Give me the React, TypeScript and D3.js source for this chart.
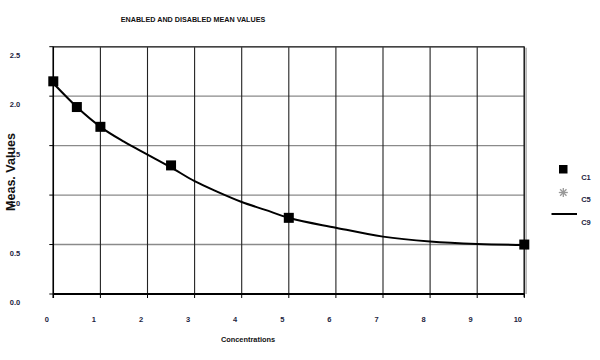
import React from "react";
import * as d3 from "d3";

const title = "ENABLED AND DISABLED MEAN VALUES";
const xTicks = [0, 1, 2, 3, 4, 5, 6, 7, 8, 9, 10];
const yTicks = [0, 0.5, 1.0, 1.5, 2.0, 2.5];
const c1X = [0, 0.5, 1, 2.5, 5, 10];
const c1Y = [2.15, 1.89, 1.69, 1.3, 0.77, 0.5];
const c5X: number[] = [];
const c5Y: number[] = [];
const c9X = [0, 0.5, 1, 1.5, 2, 2.5, 3, 3.5, 4, 4.5, 5, 6, 7, 8, 9, 10];
const c9Y = [2.13, 1.89, 1.69, 1.54, 1.41, 1.28, 1.14, 1.03, 0.93, 0.85, 0.77, 0.67, 0.58, 0.53, 0.505, 0.495];
const legendLabels = ["C1", "C5", "C9"];

export default function App() {
  const W = 600, H = 360;
  const x = d3.scaleLinear().domain([0, 10]).range([53.3, 524.3]);
  const y = d3.scaleLinear().domain([0, 2.5]).range([294, 46.7]);
  const line = d3
    .line<[number, number]>()
    .x((d) => x(d[0]))
    .y((d) => y(d[1]))
    .curve(d3.curveMonotoneX);
  const c9 = c9X.map((v, i) => [v, c9Y[i]] as [number, number]);
  const font = "'Liberation Sans', Arial, sans-serif";
  const labelColor = "#1c2340";
  const [x0, x1] = x.range();
  const [y0, y1] = y.range();
  const star = (cx: number, cy: number, r: number) =>
    [0, 45, 90, 135].map((a) => {
      const rad = (a * Math.PI) / 180;
      return (
        <line
          key={a}
          x1={cx - r * Math.cos(rad)}
          y1={cy - r * Math.sin(rad)}
          x2={cx + r * Math.cos(rad)}
          y2={cy + r * Math.sin(rad)}
          stroke="#999"
          strokeWidth={1.3}
        />
      );
    });
  return (
    <svg
      width={W}
      height={H}
      style={{ position: "absolute", left: 0, top: 0, background: "#fff" }}
      fontFamily={font}
    >
      <rect x={0} y={0} width={W} height={H} fill="#fff" />
      <text x={193} y={22} textAnchor="middle" fontSize={7.2} fontWeight="bold" fill="#111">
        {title}
      </text>
      {yTicks.map((t) => (
        <line key={"h" + t} x1={x0} x2={x1} y1={y(t)} y2={y(t)} stroke="#8a8a8a" strokeWidth={1.4} />
      ))}
      {xTicks.map((t) => (
        <line key={"v" + t} x1={x(t)} x2={x(t)} y1={y1} y2={y0} stroke="#222" strokeWidth={1.1} />
      ))}
      <line x1={x0} x2={x1} y1={y1} y2={y1} stroke="#444" strokeWidth={1.6} />
      <line x1={x1 + 1.8} x2={x1 + 1.8} y1={y1 + 1} y2={y0} stroke="#aaa" strokeWidth={1.5} />
      <line x1={x1} x2={x1} y1={y1} y2={y0 + 3} stroke="#222" strokeWidth={1.4} />
      <line x1={x0} x2={x0} y1={y1} y2={y0 + 4} stroke="#000" strokeWidth={1.5} />
      <line x1={x0} x2={x1} y1={y0} y2={y0} stroke="#000" strokeWidth={2} />
      {yTicks.map((t) => (
        <line key={"yt" + t} x1={x0 - 4} x2={x0} y1={y(t)} y2={y(t)} stroke="#000" strokeWidth={1} />
      ))}
      {xTicks.map((t) => (
        <line key={"xt" + t} x1={x(t)} x2={x(t)} y1={y0} y2={y0 + 4} stroke="#000" strokeWidth={1} />
      ))}
      {yTicks.map((t) => (
        <text key={"yl" + t} x={15} y={y(t) + 11} textAnchor="middle" fontSize={7.5} fontWeight="bold" fill={labelColor}>
          {t.toFixed(1)}
        </text>
      ))}
      {xTicks.map((t) => (
        <text key={"xl" + t} x={x(t) - 6.5} y={322} textAnchor="middle" fontSize={7.5} fontWeight="bold" fill={labelColor}>
          {t}
        </text>
      ))}
      <text x={248} y={342} textAnchor="middle" fontSize={7.4} fontWeight="bold" fill="#111">
        Concentrations
      </text>
      <text
        transform={`translate(15,172) rotate(-90)`}
        textAnchor="middle"
        fontSize={12.5}
        fontWeight="bold"
        fill="#111"
      >
        Meas. Values
      </text>
      <path d={line(c9) || ""} fill="none" stroke="#000" strokeWidth={2} />
      {c5X.map((v, i) => (
        <g key={"c5" + i}>{star(x(v), y(c5Y[i]), 4.5)}</g>
      ))}
      {c1X.map((v, i) => (
        <rect key={"c1" + i} x={x(v) - 5} y={y(c1Y[i]) - 5} width={10} height={10} fill="#000" />
      ))}
      <rect x={559} y={165} width={8.5} height={8.5} fill="#000" />
      {star(563.3, 192.5, 4.5)}
      <line x1={551.5} x2={577} y1={214} y2={214} stroke="#000" strokeWidth={2} />
      {legendLabels.map((l, i) => (
        <text key={l} x={586} y={179.5 + i * 22.5} textAnchor="middle" fontSize={7.5} fontWeight="bold" fill={labelColor}>
          {l}
        </text>
      ))}
    </svg>
  );
}
